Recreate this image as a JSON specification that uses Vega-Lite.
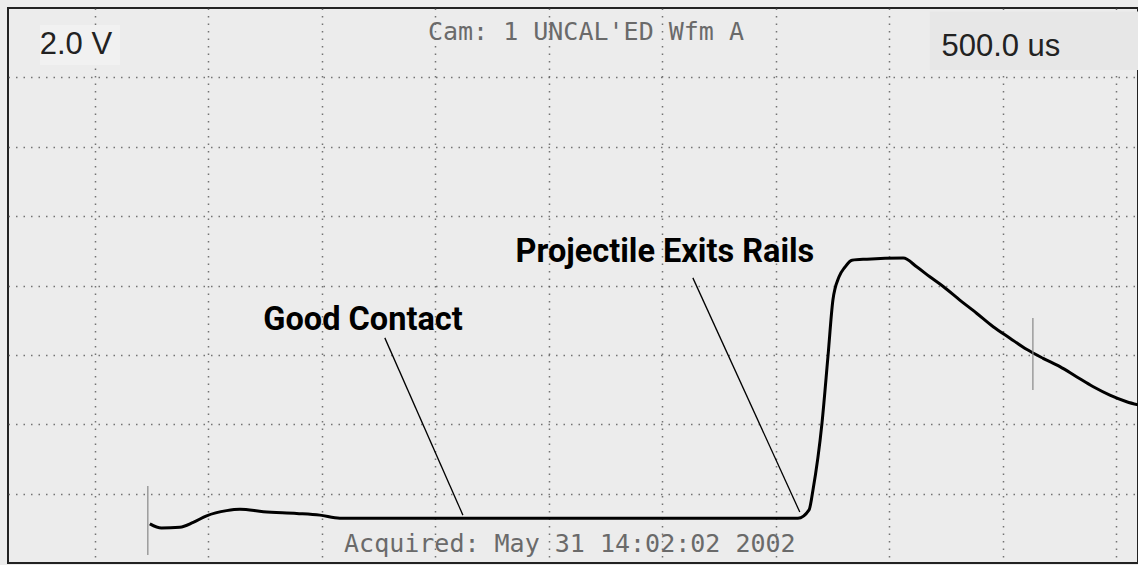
{
  "$schema": "https://vega.github.io/schema/vega-lite/v6.json",
  "width": 1130,
  "height": 555,
  "padding": {"left": 8, "top": 8, "right": 0, "bottom": 2},
  "autosize": {"type": "none"},
  "background": "#ececec",
  "config": {
    "view": {"fill": "#ececec", "stroke": "#222222", "strokeWidth": 2},
    "axis": {"labels": false, "ticks": false, "domain": false, "title": null, "grid": true, "gridColor": "#555555", "gridDash": [1.5, 6], "gridWidth": 1.5, "gridOpacity": 0.8}
  },
  "datasets": {
    "boxes": [
      {"t": 258, "t2": 610, "v": 7.51, "v2": 6.36, "shade": "light"},
      {"t": 4178, "t2": 5095, "v": 7.9, "v2": 6.21, "shade": "dark"}
    ],
    "trace": [
      {"t": 742, "v": -6.87}, {"t": 793, "v": -6.99}, {"t": 874, "v": -6.97}, {"t": 933, "v": -6.83},
      {"t": 992, "v": -6.64}, {"t": 1080, "v": -6.49}, {"t": 1139, "v": -6.45}, {"t": 1242, "v": -6.52},
      {"t": 1389, "v": -6.57}, {"t": 1491, "v": -6.62}, {"t": 1579, "v": -6.71},
      {"t": 3597, "v": -6.71}, {"t": 3646, "v": -6.47}, {"t": 3663, "v": -5.9}, {"t": 3703, "v": -3.96},
      {"t": 3729, "v": -2.06}, {"t": 3751, "v": -0.42}, {"t": 3778, "v": 0.25}, {"t": 3804, "v": 0.53},
      {"t": 3835, "v": 0.73}, {"t": 3901, "v": 0.76}, {"t": 4061, "v": 0.79}, {"t": 4120, "v": 0.54},
      {"t": 4178, "v": 0.25}, {"t": 4237, "v": -0.03}, {"t": 4310, "v": -0.42}, {"t": 4384, "v": -0.8},
      {"t": 4457, "v": -1.19}, {"t": 4531, "v": -1.52}, {"t": 4604, "v": -1.84}, {"t": 4677, "v": -2.1},
      {"t": 4751, "v": -2.34}, {"t": 4824, "v": -2.63}, {"t": 4898, "v": -2.92}, {"t": 4971, "v": -3.16},
      {"t": 5045, "v": -3.35}, {"t": 5095, "v": -3.44}
    ],
    "pointers": [
      {"t": 1777, "v": -1.51, "t2": 2121, "v2": -6.62},
      {"t": 3134, "v": 0.22, "t2": 3605, "v2": -6.53}
    ],
    "markers": [
      {"t": 733, "v": -5.78, "v2": -7.77},
      {"t": 4632, "v": -0.94, "v2": -3.01}
    ],
    "scopeText": [
      {"label": "Cam: 1 UNCAL'ED Wfm A", "t": 2663, "v": 7.31},
      {"label": "Acquired: May 31 14:02:02 2002", "t": 2592, "v": -7.45}
    ],
    "scale": [
      {"label": "2.0 V", "t": 416, "v": 6.93},
      {"label": "500.0 us", "t": 4491, "v": 6.89}
    ],
    "notes": [
      {"label": "Good Contact", "t": 1681, "v": -0.99},
      {"label": "Projectile Exits Rails", "t": 3011, "v": 0.97}
    ]
  },
  "layer": [
    {
      "data": {"name": "boxes"},
      "mark": {"type": "rect"},
      "encoding": {
        "x": {"field": "t", "type": "quantitative", "scale": {"domain": [117, 5095], "nice": false, "zero": false}, "axis": {"values": [500, 1000, 1500, 2000, 2500, 3000, 3500, 4000, 4500, 5000]}},
        "x2": {"field": "t2"},
        "y": {"field": "v", "type": "quantitative", "scale": {"domain": [-8, 8], "nice": false, "zero": false}, "axis": {"values": [-6, -4, -2, 0, 2, 4, 6]}},
        "y2": {"field": "v2"},
        "color": {"field": "shade", "type": "nominal", "scale": {"domain": ["light", "dark"], "range": ["#f1f1f1", "#e7e7e7"]}, "legend": null}
      }
    },
    {
      "data": {"name": "trace"},
      "mark": {"type": "line", "color": "#000000", "strokeWidth": 3, "clip": true, "strokeJoin": "round", "interpolate": "monotone"},
      "encoding": {
        "x": {"field": "t", "type": "quantitative"},
        "y": {"field": "v", "type": "quantitative"}
      }
    },
    {
      "data": {"name": "pointers"},
      "mark": {"type": "rule", "color": "#000000", "strokeWidth": 1.3},
      "encoding": {
        "x": {"field": "t", "type": "quantitative"},
        "y": {"field": "v", "type": "quantitative"},
        "x2": {"field": "t2"},
        "y2": {"field": "v2"}
      }
    },
    {
      "data": {"name": "markers"},
      "mark": {"type": "rule", "color": "#888888", "strokeWidth": 1.2},
      "encoding": {
        "x": {"field": "t", "type": "quantitative"},
        "y": {"field": "v", "type": "quantitative"},
        "y2": {"field": "v2"}
      }
    },
    {
      "data": {"name": "scopeText"},
      "mark": {"type": "text", "font": "DejaVu Sans Mono", "fontSize": 25, "color": "#6a6a6a", "align": "center", "baseline": "middle"},
      "encoding": {
        "x": {"field": "t", "type": "quantitative"},
        "y": {"field": "v", "type": "quantitative"},
        "text": {"field": "label"}
      }
    },
    {
      "data": {"name": "scale"},
      "mark": {"type": "text", "font": "Liberation Sans", "fontSize": 31, "color": "#222222", "align": "center", "baseline": "middle"},
      "encoding": {
        "x": {"field": "t", "type": "quantitative"},
        "y": {"field": "v", "type": "quantitative"},
        "text": {"field": "label"}
      }
    },
    {
      "data": {"name": "notes"},
      "mark": {"type": "text", "font": "Roboto", "fontWeight": "bold", "fontSize": 32.5, "color": "#000000", "align": "center", "baseline": "middle"},
      "encoding": {
        "x": {"field": "t", "type": "quantitative"},
        "y": {"field": "v", "type": "quantitative"},
        "text": {"field": "label"}
      }
    }
  ]
}
